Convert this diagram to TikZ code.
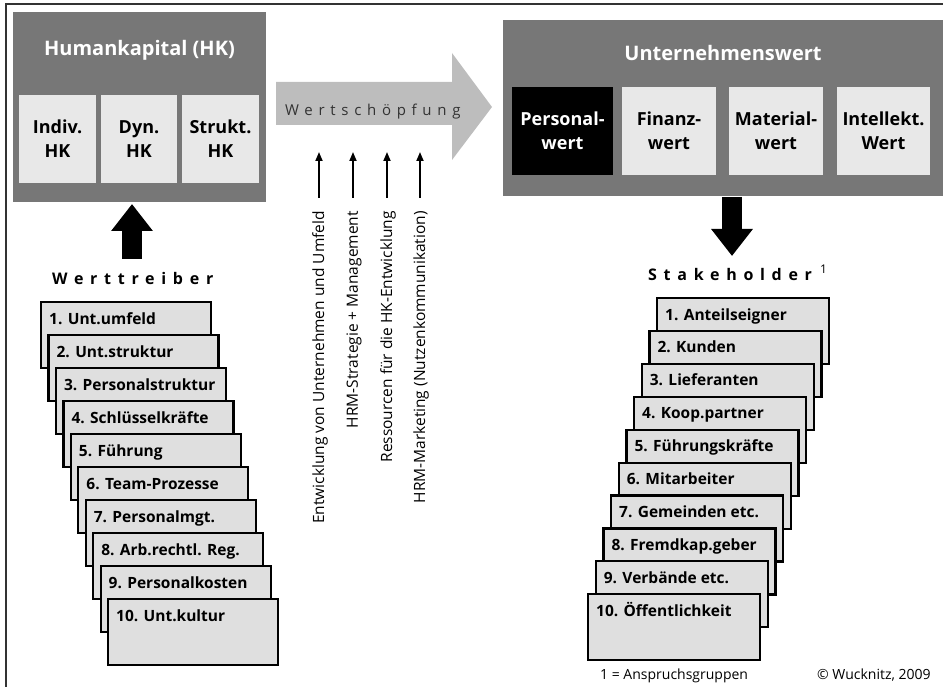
\documentclass[tikz,border=0pt]{standalone}
\usepackage{fontspec}
\setmainfont{Open Sans}
\newfontfamily\spacedfont[LetterSpace=42]{Open Sans}
\newfontfamily\spacedreg[LetterSpace=38]{Open Sans}
\usetikzlibrary{arrows.meta,calc}
\definecolor{darkbox}{HTML}{777777}
\definecolor{lightbox}{HTML}{E8E8E8}
\definecolor{stackfill}{HTML}{DFDFDF}
\definecolor{arrowgray}{HTML}{BDBDBD}
\definecolor{framecol}{HTML}{333333}
\begin{document}
\begin{tikzpicture}[x=1pt,y=-1pt,
  panel/.style={fill=darkbox, inner sep=0pt, outer sep=0pt, anchor=north west},
  subbox/.style={fill=lightbox, inner sep=0pt, outer sep=0pt, anchor=north west, align=center,
                 font=\fontsize{18}{24}\selectfont\bfseries, text=black},
  blackbox/.style={subbox, fill=black, text=white},
  paneltitle/.style={text=white, font=\fontsize{20}{24}\selectfont\bfseries, inner sep=0pt},
  stackbox/.style={fill=stackfill, draw=black, line width=2.2pt, inner sep=0pt, anchor=north west,
                   minimum height=66pt},
  stacklabel/.style={font=\fontsize{15.5}{18}\selectfont\bfseries, inner sep=0pt, anchor=base west},
  vlabel/.style={font=\fontsize{15.5}{18}\selectfont, rotate=90, anchor=east, inner sep=0pt},
  thinarrow/.style={line width=1.8pt, -{Triangle[length=9pt,width=7pt]}},
  blockarrow/.style={line width=20pt, -{Triangle[length=27pt,width=40pt]}},
  heading/.style={font=\fontsize{16}{18}\selectfont\bfseries\spacedfont, inner sep=0pt, anchor=base west},
  note/.style={font=\fontsize{14}{16}\selectfont, inner sep=0pt, anchor=base west}
]
\useasboundingbox (0,0) rectangle (943,687);
\draw[framecol, line width=1.8pt] (6,690) -- (6,4) -- (946,4);

% Humankapital panel
\node[panel, minimum width=253pt, minimum height=190pt] (hk) at (13,12) {};
\node[paneltitle] (hkt) at (139.5,50) {Humankapital (HK)};
\node[subbox, minimum width=77pt, minimum height=88pt] (ihk) at (19,95) {Indiv.\\HK};
\node[subbox, minimum width=76pt, minimum height=88pt] (dhk) at (101,95) {Dyn.\\HK};
\node[subbox, minimum width=77pt, minimum height=88pt] (shk) at (182,95) {Strukt.\\HK};

% Unternehmenswert panel
\node[panel, minimum width=440pt, minimum height=176pt] (uw) at (503,20) {};
\node[paneltitle] (uwt) at (723,53) {Unternehmenswert};
\node[blackbox, minimum width=101pt, minimum height=88pt] (pw) at (512,87) {Personal-\\wert};
\node[subbox, minimum width=94pt, minimum height=88pt] (fw) at (622,87) {Finanz-\\wert};
\node[subbox, minimum width=94pt, minimum height=88pt] (mw) at (729,87) {Material-\\wert};
\node[subbox, minimum width=93pt, minimum height=88pt] (iw) at (837,87) {Intellekt.\\Wert};

% Wertschoepfung arrow
\fill[arrowgray] (276,82) -- (452,82) -- (452,53) -- (492,107) -- (452,160) -- (452,125) -- (276,125) -- cycle;
\node[inner sep=0pt, anchor=base west, text=framecol,
      font=\fontsize{15}{18}\selectfont\spacedreg] (ws) at (285,115.5) {Wertschöpfung};

% influence arrows and labels
\foreach \xx/\lab [count=\k] in {320/Entwicklung von Unternehmen und Umfeld,
                                 354/HRM-Strategie + Management,
                                 388/Ressourcen für die HK-Entwicklung,
                                 421/HRM-Marketing (Nutzenkommunikation)} {
  \node[vlabel] (v\k) at (\xx,211) {\lab};
  \coordinate (vb\k) at (\xx-1,198);
  \coordinate (vt\k) at (\xx-1,152);
  \draw[thinarrow] (vb\k) -- (vt\k);
}

% Werttreiber
\node[heading] (wtt) at (52,285) {Werttreiber};
\coordinate (upstart) at (132,259);
\coordinate (upend) at (132,204);
\draw[blockarrow] (upstart) -- (upend);

\foreach \t [count=\i from 0] in {1. Unt.umfeld, 2. Unt.struktur, 3. Personalstruktur,
      4. Schlüsselkräfte, 5. Führung, 6. Team-Prozesse, 7. Personalmgt.,
      8. Arb.rechtl. Reg., 9. Personalkosten, 10. Unt.kultur} {
  \pgfmathsetmacro\xx{40+7.44*\i}
  \pgfmathsetmacro\yy{301+33*\i}
  \node[stackbox, minimum width=170pt] (wt\i) at (\xx,\yy) {};
  \node[stacklabel] (wtl\i) at ($(wt\i.north west)+(9,23)$) {\t};
}

% Stakeholder
\node[heading] (skt) at (648,281) {Stakeholder};
\node[note, font=\fontsize{12}{14}\selectfont] (sup) at (820,274) {1};
\coordinate (downstart) at (732,197);
\coordinate (downend) at (732,256);
\draw[blockarrow] (downstart) -- (downend);

\foreach \t [count=\i from 0] in {1. Anteilseigner, 2. Kunden, 3. Lieferanten,
      4. Koop.partner, 5. Führungskräfte, 6. Mitarbeiter, 7. Gemeinden etc.,
      8. Fremdkap.geber, 9. Verbände etc., 10. Öffentlichkeit} {
  \pgfmathsetmacro\xx{656-7.67*\i}
  \pgfmathsetmacro\yy{297+32.9*\i}
  \node[stackbox, minimum width=172pt] (sh\i) at (\xx,\yy) {};
  \node[stacklabel] (shl\i) at ($(sh\i.north west)+(9,23)$) {\t};
}

% notes
\node[note] (fn) at (600,679) {1 = Anspruchsgruppen};
\node[note] (cr) at (817,679) {© Wucknitz, 2009};
\end{tikzpicture}
\end{document}
